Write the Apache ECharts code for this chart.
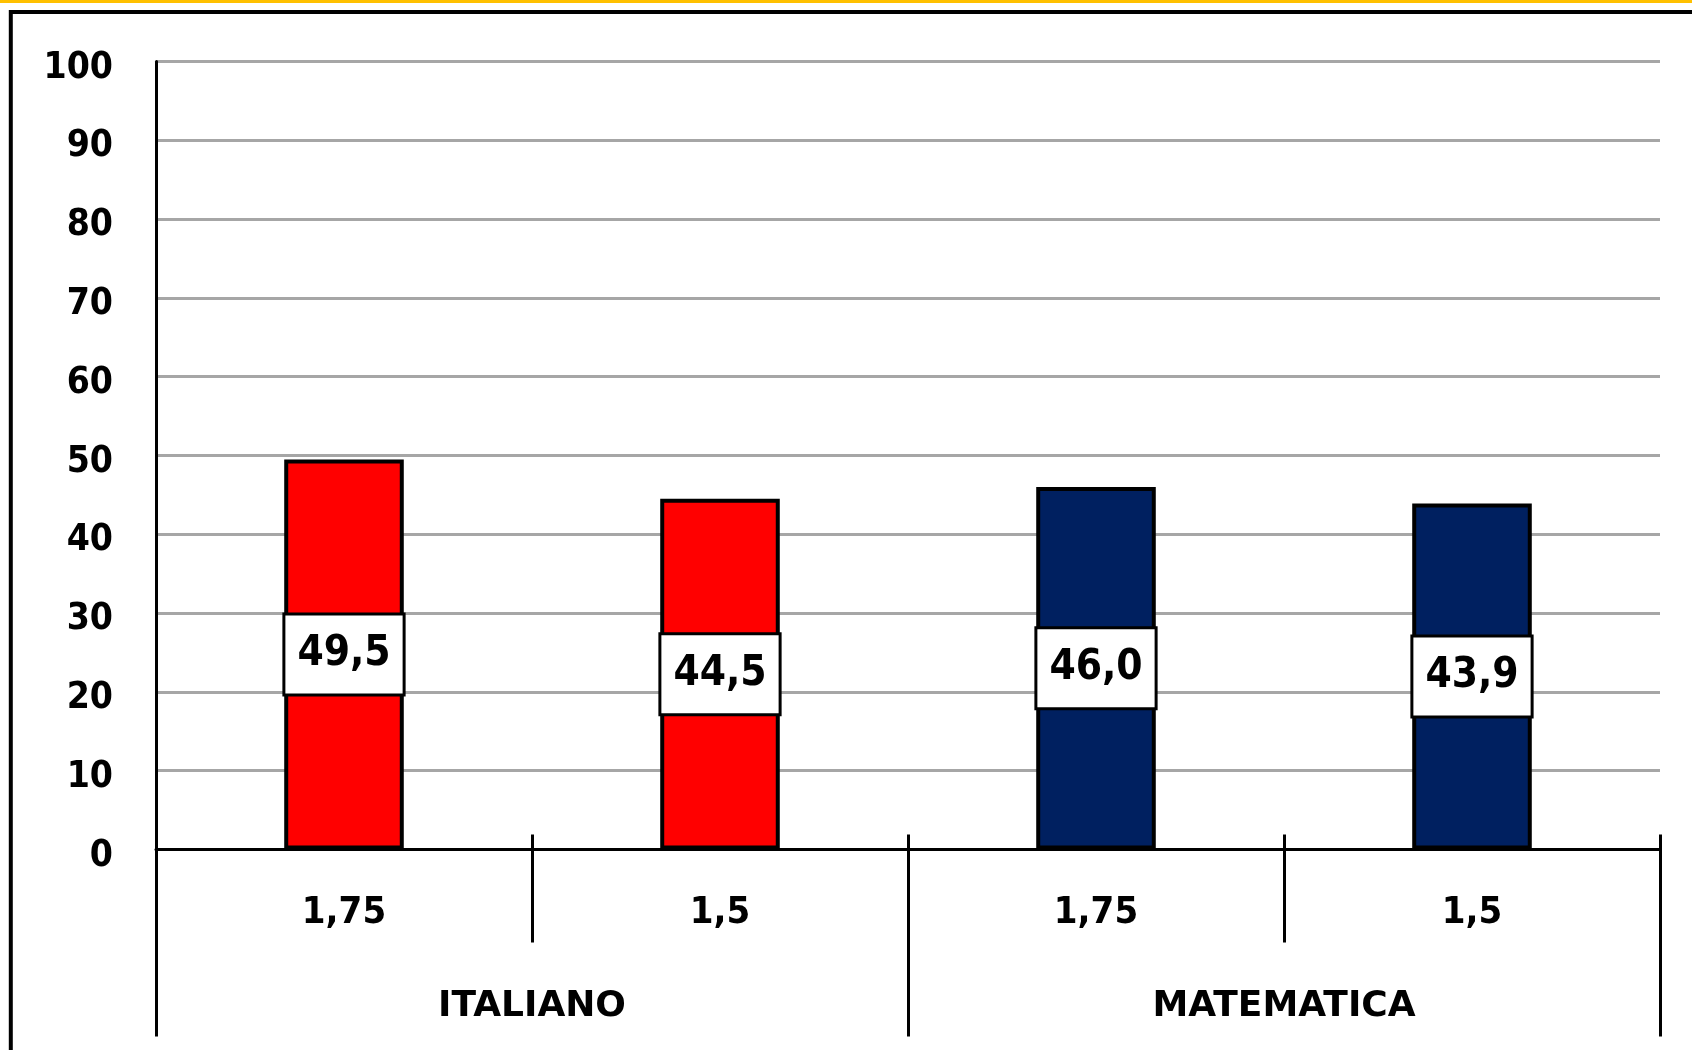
<!DOCTYPE html>
<html>
<head>
<meta charset="utf-8">
<style>
  html, body { margin: 0; padding: 0; background: #fff; }
  #chart { width: 1692px; height: 1050px; }
</style>
<script src="https://cdn.jsdelivr.net/npm/echarts@6/dist/echarts.min.js"></script>
</head>
<body>
<div id="chart"></div>
<script>
// dati
const subjects = ['ITALIANO', 'MATEMATICA']
const levels = ['1,75', '1,5', '1,75', '1,5']
const scores = [49.5, 44.5, 46.0, 43.9]
const barColors = ['#ff0000', '#ff0000', '#002060', '#002060']
const yMin = 0
const yMax = 100
const yStep = 10

const font = "'DejaVu Sans Condensed', 'DejaVu Sans', sans-serif"
const fontWide = "'DejaVu Sans', sans-serif"

const chart = echarts.init(document.getElementById('chart'), null, { renderer: 'canvas' })

const options = {
  backgroundColor: '#fff',
  animation: false,
  grid: {
    left: 156,
    right: 32,
    top: 61.5,
    bottom: 200.5,
    containLabel: false,
  },
  graphic: [
    {
      type: 'rect',
      shape: { x: 0, y: 0, width: 1692, height: 3 },
      style: { fill: '#ffc000' },
    },
    {
      type: 'rect',
      shape: { x: 10.8, y: 12, width: 1800, height: 1200 },
      style: { fill: 'none', stroke: '#000', lineWidth: 4 },
    },
  ],
  xAxis: [
    {
      type: 'category',
      data: levels,
      position: 'bottom',
      axisLine: { show: true, lineStyle: { color: '#000', width: 3 } },
      axisTick: { show: true, interval: 0, length: 93, lineStyle: { color: '#000', width: 3 } },
      axisLabel: {
        interval: 0,
        margin: 45,
        color: '#000',
        fontSize: 38,
        fontWeight: 'bold',
        fontFamily: font,
      },
      z: 5,
    },
    {
      // tacche corte sopra l'asse
      type: 'category',
      data: levels,
      position: 'bottom',
      axisLine: { show: false },
      axisTick: { show: true, interval: 0, inside: true, length: 15, lineStyle: { color: '#000', width: 3 } },
      axisLabel: { show: false },
    },
    {
      type: 'category',
      data: subjects,
      position: 'bottom',
      axisLine: { show: false },
      axisTick: { show: true, interval: 0, length: 187, lineStyle: { color: '#000', width: 3 } },
      axisLabel: {
        interval: 0,
        margin: 139,
        color: '#000',
        fontSize: 36,
        fontWeight: 'bold',
        fontFamily: fontWide,
      },
    },
  ],
  yAxis: {
    type: 'value',
    min: yMin,
    max: yMax,
    interval: yStep,
    axisLine: { show: true, lineStyle: { color: '#000', width: 3 } },
    axisTick: { show: false },
    axisLabel: {
      margin: 43,
      formatter: '{v|{value}}',
      rich: {
        v: {
          color: '#000',
          fontSize: 37,
          fontWeight: 'bold',
          fontFamily: font,
          padding: [13, 0, 0, 0],
        },
      },
    },
    splitLine: { show: true, lineStyle: { color: '#a6a6a6', width: 3 } },
  },
  series: [{
    type: 'bar',
    xAxisIndex: 0,
    barWidth: '31.8%',
    data: scores.map((v, i) => ({
      value: v,
      itemStyle: { color: barColors[i] },
    })),
    itemStyle: { borderColor: '#000', borderWidth: 4 },
    label: {
      show: true,
      position: 'inside',
      formatter: p => p.value.toFixed(1).replace('.', ','),
      color: '#000',
      fontSize: 42,
      fontWeight: 'bold',
      fontFamily: font,
      lineHeight: 46,
      backgroundColor: '#fff',
      borderColor: '#000',
      borderWidth: 3,
      padding: [18, 12, 14, 12],
    },
    z: 3,
  }],
}

chart.setOption(options)
</script>
</body>
</html>
